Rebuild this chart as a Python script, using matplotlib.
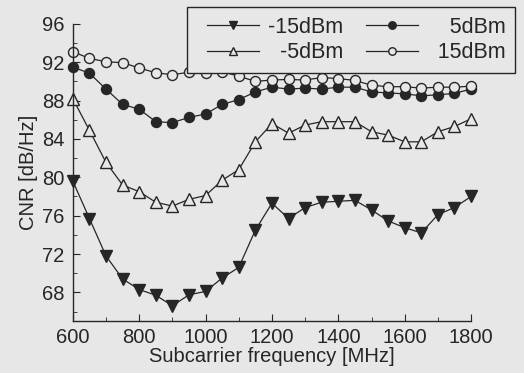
import matplotlib
matplotlib.use("Agg")
import matplotlib.pyplot as plt
from matplotlib.ticker import MultipleLocator
from matplotlib.legend_handler import HandlerLine2D

freq = list(range(600, 1801, 50))
cnr_m15 = [79.6, 75.7, 71.8, 69.4, 68.3, 67.7, 66.6, 67.75, 68.1, 69.5, 70.6, 74.5,
           77.3, 75.7, 76.85, 77.4, 77.5, 77.6, 76.6, 75.45, 74.75, 74.2, 76.1, 76.85, 78.0]
cnr_m5 = [88.2, 84.9, 81.55, 79.2, 78.5, 77.4, 77.0, 77.7, 78.1, 79.7, 80.8, 83.7,
          85.6, 84.6, 85.45, 85.8, 85.8, 85.8, 84.75, 84.4, 83.7, 83.7, 84.75, 85.3, 86.1]
cnr_5 = [91.5, 90.85, 89.2, 87.6, 87.1, 85.8, 85.7, 86.25, 86.6, 87.6, 88.1, 88.9,
         89.4, 89.2, 89.3, 89.2, 89.4, 89.4, 88.9, 88.8, 88.7, 88.5, 88.6, 88.75, 89.2]
cnr_15 = [93.1, 92.4, 92.05, 91.95, 91.4, 90.9, 90.7, 90.95, 90.85, 91.0, 90.55, 90.0,
          90.15, 90.2, 90.15, 90.4, 90.3, 90.1, 89.6, 89.45, 89.45, 89.3, 89.4, 89.4, 89.5]
labels = ["-15dBm", "\u2007-5dBm", "\u2002\u20075dBm", "\u200215dBm"]

plt.rcParams['font.family'] = ['Liberation Sans', 'DejaVu Sans']
fs = 14.5
fs_leg = 15.5
bg = "#e7e7e7"
ink = "#262626"
fig = plt.figure(figsize=(5.24, 3.73), dpi=100, facecolor=bg)
ax = fig.add_axes([0.139, 0.139, 0.760, 0.797], facecolor=bg)

kw = dict(color=ink, lw=0.9, markeredgewidth=1.0, markeredgecolor=ink, clip_on=False)
l1, = ax.plot(freq, cnr_m15, marker='v', markersize=8, markerfacecolor=ink, label=labels[0], **kw)
l2, = ax.plot(freq, cnr_m5, marker='^', markersize=8, markerfacecolor=bg, label=labels[1], **kw)
l3, = ax.plot(freq, cnr_5, marker='o', markersize=7.2, markerfacecolor=ink, label=labels[2], **kw)
l4, = ax.plot(freq, cnr_15, marker='o', markersize=7.2, markerfacecolor=bg, label=labels[3], **kw)

ax.set_xlim(600, 1800)
ax.set_ylim(65, 96)
ax.xaxis.set_major_locator(MultipleLocator(200))
ax.xaxis.set_minor_locator(MultipleLocator(100))
ax.yaxis.set_minor_locator(MultipleLocator(2))
ax.set_yticks(range(68, 97, 4))
for s in ['top', 'right']:
    ax.spines[s].set_visible(False)
for s in ['left', 'bottom']:
    ax.spines[s].set_color(ink)
    ax.spines[s].set_linewidth(1.0)
ax.tick_params(which='both', direction='in', colors=ink, labelsize=fs)
ax.tick_params(which='major', length=5)
ax.tick_params(which='minor', length=3)
ax.tick_params(axis='x', pad=5)
ax.tick_params(axis='y', pad=6)
ax.set_xlabel("Subcarrier frequency [MHz]", fontsize=fs, color=ink, labelpad=0)
ax.set_ylabel("CNR [dB/Hz]", fontsize=fs, color=ink, labelpad=3)

hm = {h: HandlerLine2D(xpad=0.5) for h in (l1, l2, l3, l4)}
leg = fig.legend(handles=[l1, l2, l3, l4], loc='upper right', bbox_to_anchor=(0.983, 0.981),
                 ncol=2, frameon=True, fontsize=fs_leg, handlelength=2.91, columnspacing=0.55,
                 handletextpad=0.42, labelspacing=0.2, borderpad=0.45, borderaxespad=0,
                 markerscale=0.75, fancybox=False, facecolor=bg, edgecolor=ink,
                 framealpha=1, handler_map=hm)
leg.get_frame().set_linewidth(1.0)
for t in leg.get_texts():
    t.set_color(ink)

fig.savefig("out.png", dpi=100, facecolor=bg)
